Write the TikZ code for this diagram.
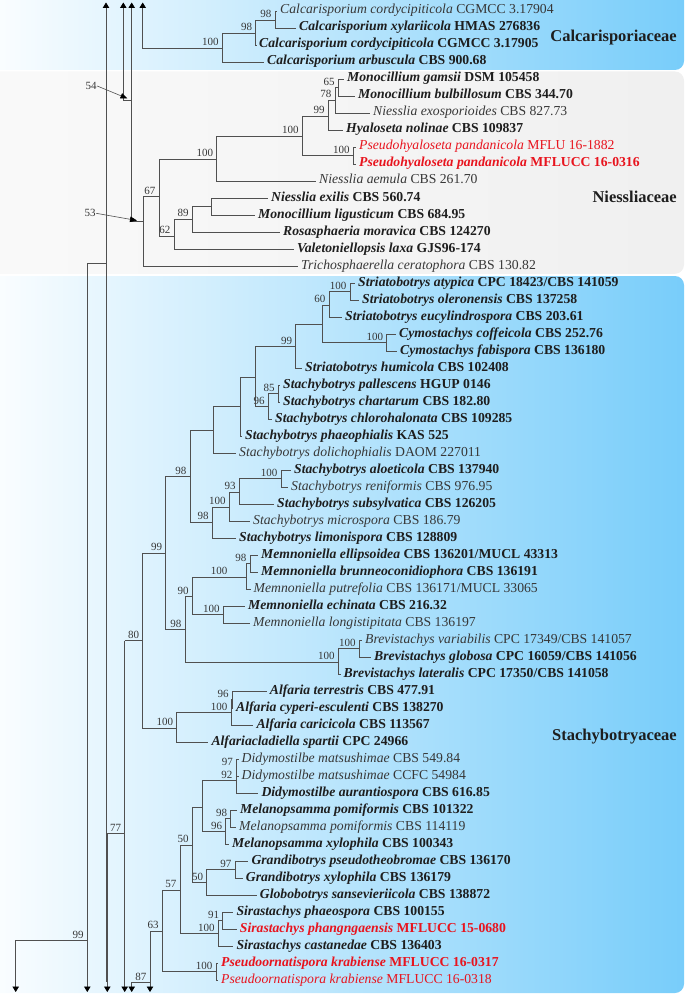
\documentclass[tikz,border=0pt]{standalone}
\usepackage{fontspec}
\setmainfont{Liberation Serif}
\usetikzlibrary{arrows.meta}
\definecolor{famblue}{RGB}{120,205,250}
\definecolor{linec}{RGB}{80,80,80}
\definecolor{txtc}{RGB}{30,30,30}
\definecolor{txtn}{RGB}{55,55,55}
\definecolor{newred}{RGB}{232,20,30}
\newcommand\lfx[2]{\textit{#1} #2}
\newcommand\brto[2]{\draw[br] (#1) |- (#2);}
\newcommand\bsl[3]{\node[bs] (#1) at ([xshift=-3pt,yshift=1.5pt]#2) {#3};}
\tikzset{
  leafbase/.style={anchor=west, inner xsep=3pt, inner ysep=0pt, text height=9pt, text depth=3pt},
  lfn/.style={leafbase, text=txtn, font=\fontsize{13.7}{15}\selectfont},
  lfb/.style={leafbase, text=txtc, font=\fontsize{13.7}{15}\selectfont\bfseries},
  lfr/.style={leafbase, text=newred, font=\fontsize{13.7}{15}\selectfont},
  lfrb/.style={leafbase, text=newred, font=\fontsize{13.7}{15}\selectfont\bfseries},
  bs/.style={anchor=south east, inner sep=0.5pt, text=txtn, font=\fontsize{11}{12}\selectfont},
  fam/.style={anchor=east, inner sep=0pt, text=txtc, font=\fontsize{16.5}{18}\selectfont\bfseries},
  br/.style={draw=linec, line width=0.75pt},
  endtri/.style={br, -{Triangle[width=6.5pt,length=5.5pt,black]}},
  annot/.style={draw=linec, line width=0.6pt, -{Triangle[width=5.5pt,length=7pt,black]}}
}
\begin{document}
\begin{tikzpicture}[x=1pt,y=-1pt]
\useasboundingbox (0,0) rectangle (685,995);
% family boxes
\shade[left color=white, right color=famblue, rounded corners=9pt] (-30,-20) rectangle (684,70);
\shade[left color=gray!4, right color=gray!12, rounded corners=9pt] (-30,71.5) rectangle (684,273.8);
\shade[left color=white, right color=famblue, rounded corners=9pt] (-30,276) rectangle (684,993);
\node[fam] (fcalc) at (677,38) {Calcarisporiaceae};
\node[fam] (fniess) at (677,197) {Niessliaceae};
\node[fam] (fstach) at (677,737) {Stachybotryaceae};

% leaves
\node[lfn]  (t1)  at (277,11)  {\lfx{Calcarisporium cordycipiticola}{CGMCC 3.17904}};
\node[lfb]  (t2)  at (296,28)  {\lfx{Calcarisporium xylariicola}{HMAS 276836}};
\node[lfb]  (t3)  at (256,45)  {\lfx{Calcarisporium cordycipiticola}{CGMCC 3.17905}};
\node[lfb]  (t4)  at (264,62)  {\lfx{Calcarisporium arbuscula}{CBS 900.68}};
\node[lfb]  (t5)  at (344,79)  {\lfx{Monocillium gamsii}{DSM 105458}};
\node[lfb]  (t6)  at (355,96)  {\lfx{Monocillium bulbillosum}{CBS 344.70}};
\node[lfn]  (t7)  at (370,113) {\lfx{Niesslia exosporioides}{CBS 827.73}};
\node[lfb]  (t8)  at (343,130) {\lfx{Hyaloseta nolinae}{CBS 109837}};
\node[lfr]  (t9)  at (356,147) {\lfx{Pseudohyaloseta pandanicola}{MFLU 16-1882}};
\node[lfrb] (t10) at (356,164) {\lfx{Pseudohyaloseta pandanicola}{MFLUCC 16-0316}};
\node[lfn]  (t11) at (316,181) {\lfx{Niesslia aemula}{CBS 261.70}};
\node[lfb]  (t12) at (268,198) {\lfx{Niesslia exilis}{CBS 560.74}};
\node[lfb]  (t13) at (255,215) {\lfx{Monocillium ligusticum}{CBS 684.95}};
\node[lfb]  (t14) at (280,232) {\lfx{Rosasphaeria moravica}{CBS 124270}};
\node[lfb]  (t15) at (294,249) {\lfx{Valetoniellopsis laxa}{GJS96-174}};
\node[lfn]  (t16) at (298,266) {\lfx{Trichosphaerella ceratophora}{CBS 130.82}};
\node[lfb]  (t17) at (355,283) {\lfx{Striatobotrys atypica}{CPC 18423/CBS 141059}};
\node[lfb]  (t18) at (359,300) {\lfx{Striatobotrys oleronensis}{CBS 137258}};
\node[lfb]  (t19) at (342,317) {\lfx{Striatobotrys eucylindrospora}{CBS 203.61}};
\node[lfb]  (t20) at (396,334) {\lfx{Cymostachys coffeicola}{CBS 252.76}};
\node[lfb]  (t21) at (397,351) {\lfx{Cymostachys fabispora}{CBS 136180}};
\node[lfb]  (t22) at (302,368) {\lfx{Striatobotrys humicola}{CBS 102408}};
\node[lfb]  (t23) at (280,385) {\lfx{Stachybotrys pallescens}{HGUP 0146}};
\node[lfb]  (t24) at (280,402) {\lfx{Stachybotrys chartarum}{CBS 182.80}};
\node[lfb]  (t25) at (272,419) {\lfx{Stachybotrys chlorohalonata}{CBS 109285}};
\node[lfb]  (t26) at (242,436) {\lfx{Stachybotrys phaeophialis}{KAS 525}};
\node[lfn]  (t27) at (236,453) {\lfx{Stachybotrys dolichophialis}{DAOM 227011}};
\node[lfb]  (t28) at (291,470) {\lfx{Stachybotrys aloeticola}{CBS 137940}};
\node[lfn]  (t29) at (288,487) {\lfx{Stachybotrys reniformis}{CBS 976.95}};
\node[lfb]  (t30) at (274,504) {\lfx{Stachybotrys subsylvatica}{CBS 126205}};
\node[lfn]  (t31) at (250,521) {\lfx{Stachybotrys microspora}{CBS 186.79}};
\node[lfb]  (t32) at (236,538) {\lfx{Stachybotrys limonispora}{CBS 128809}};
\node[lfb]  (t33) at (258,555) {\lfx{Memnoniella ellipsoidea}{CBS 136201/MUCL 43313}};
\node[lfb]  (t34) at (258,572) {\lfx{Memnoniella brunneoconidiophora}{CBS 136191}};
\node[lfn]  (t35) at (250.5,589) {\lfx{Memnoniella putrefolia}{CBS 136171/MUCL 33065}};
\node[lfb]  (t36) at (245,606) {\lfx{Memnoniella echinata}{CBS 216.32}};
\node[lfn]  (t37) at (250,623) {\lfx{Memnoniella longistipitata}{CBS 136197}};
\node[lfn]  (t38) at (362,640) {\lfx{Brevistachys variabilis}{CPC 17349/CBS 141057}};
\node[lfb]  (t39) at (371,657) {\lfx{Brevistachys globosa}{CPC 16059/CBS 141056}};
\node[lfb]  (t40) at (340.5,674) {\lfx{Brevistachys lateralis}{CPC 17350/CBS 141058}};
\node[lfb]  (t41) at (266.7,691) {\lfx{Alfaria terrestris}{CBS 477.91}};
\node[lfb]  (t42) at (233,708) {\lfx{Alfaria cyperi-esculenti}{CBS 138270}};
\node[lfb]  (t43) at (253.3,725) {\lfx{Alfaria caricicola}{CBS 113567}};
\node[lfb]  (t44) at (208.3,742) {\lfx{Alfariacladiella spartii}{CPC 24966}};
\node[lfn]  (t45) at (238.5,759) {\lfx{Didymostilbe matsushimae}{CBS 549.84}};
\node[lfn]  (t46) at (238.5,776) {\lfx{Didymostilbe matsushimae}{CCFC 54984}};
\node[lfb]  (t47) at (258.3,793) {\lfx{Didymostilbe aurantiospora}{CBS 616.85}};
\node[lfb]  (t48) at (237,810) {\lfx{Melanopsamma pomiformis}{CBS 101322}};
\node[lfn]  (t49) at (236,827) {\lfx{Melanopsamma pomiformis}{CBS 114119}};
\node[lfb]  (t50) at (229,844) {\lfx{Melanopsamma xylophila}{CBS 100343}};
\node[lfb]  (t51) at (248.3,861) {\lfx{Grandibotrys pseudotheobromae}{CBS 136170}};
\node[lfb]  (t52) at (242.7,878) {\lfx{Grandibotrys xylophila}{CBS 136179}};
\node[lfb]  (t53) at (256.7,895) {\lfx{Globobotrys sansevieriicola}{CBS 138872}};
\node[lfb]  (t54) at (233.3,912) {\lfx{Sirastachys phaeospora}{CBS 100155}};
\node[lfrb] (t55) at (236.7,929) {\lfx{Sirastachys phangngaensis}{MFLUCC 15-0680}};
\node[lfb]  (t56) at (233.3,946) {\lfx{Sirastachys castanedae}{CBS 136403}};
\node[lfrb] (t57) at (218,963) {\lfx{Pseudoornatispora krabiense}{MFLUCC 16-0317}};
\node[lfr]  (t58) at (218,980) {\lfx{Pseudoornatispora krabiense}{MFLUCC 16-0318}};

% internal nodes
\coordinate (n98a) at (275,20);
\coordinate (n98b) at (255.7,33);
\coordinate (n100calc) at (222.3,48.3);
\coordinate (n65) at (338.3,87.5);
\coordinate (n78) at (335,100);
\coordinate (n99) at (328.3,116);
\coordinate (nPs) at (353.3,155.5);
\coordinate (n100b) at (302.3,136);
\coordinate (n100c) at (216.7,159);
\coordinate (nEx) at (211,206.5);
\coordinate (n89) at (192.3,219.3);
\coordinate (n62) at (174,236);
\coordinate (n67) at (159,196.7);
\coordinate (nNiess) at (143.3,221.7);
\coordinate (nAt) at (350,291.5);
\coordinate (n60) at (329,305);
\coordinate (nCym) at (386.7,342.5);
\coordinate (nU1) at (322.3,324);
\coordinate (n99s) at (295.7,346.5);
\coordinate (n85) at (278.3,393.5);
\coordinate (n96s) at (268.3,406.5);
\coordinate (nU2) at (255,377);
\coordinate (nU3) at (240.7,406.7);
\coordinate (nU4) at (213.3,430.5);
\coordinate (nAlo) at (281,478.5);
\coordinate (n93) at (239.3,492);
\coordinate (n100m) at (229.3,507);
\coordinate (n98m) at (212.3,522);
\coordinate (n98s) at (190,476.5);
\coordinate (n98e) at (250,563.5);
\coordinate (nU5) at (246,577);
\coordinate (nEch) at (223.3,614.5);
\coordinate (n90) at (192.3,596.5);
\coordinate (nBv) at (359.3,648.5);
\coordinate (nBr) at (338.3,662);
\coordinate (n98b2) at (185,629.5);
\coordinate (n99m) at (165.7,553.3);
\coordinate (n96a) at (232.3,699.5);
\coordinate (n100a) at (231,712.5);
\coordinate (n100al) at (176.7,728);
\coordinate (n80) at (142.7,640.7);
\coordinate (n97d) at (236.5,767.5);
\coordinate (n92d) at (236,780.5);
\coordinate (n98p) at (230.7,818.5);
\coordinate (n96p) at (225.7,831.5);
\coordinate (nU6) at (202.3,807);
\coordinate (n97g) at (235,869.5);
\coordinate (n50b) at (206.7,882.5);
\coordinate (n50a) at (192.3,845);
\coordinate (n91) at (222.7,920.5);
\coordinate (n100s) at (218.3,933.5);
\coordinate (n57) at (180,890);
\coordinate (n100p) at (216,971.5);
\coordinate (n63) at (162.3,931);

% branches
\brto{n98a}{t1} \brto{n98a}{t2}
\brto{n98b}{n98a} \brto{n98b}{t3}
\brto{n100calc}{n98b} \brto{n100calc}{t4}
\brto{n65}{t5} \brto{n65}{t6}
\brto{n78}{n65} \brto{n78}{t7}
\brto{n99}{n78} \brto{n99}{t8}
\brto{nPs}{t9} \brto{nPs}{t10}
\brto{n100b}{n99} \brto{n100b}{nPs}
\brto{n100c}{n100b} \brto{n100c}{t11}
\brto{nEx}{t12} \brto{nEx}{t13}
\brto{n89}{nEx} \brto{n89}{t14}
\brto{n62}{n89} \brto{n62}{t15}
\brto{n67}{n100c} \brto{n67}{n62}
\brto{nNiess}{n67} \brto{nNiess}{t16}
\brto{nAt}{t17} \brto{nAt}{t18}
\brto{n60}{nAt} \brto{n60}{t19}
\brto{nCym}{t20} \brto{nCym}{t21}
\brto{nU1}{n60} \brto{nU1}{nCym}
\brto{n99s}{nU1} \brto{n99s}{t22}
\brto{n85}{t23} \brto{n85}{t24}
\brto{n96s}{n85} \brto{n96s}{t25}
\brto{nU2}{n99s} \brto{nU2}{n96s}
\brto{nU3}{nU2} \brto{nU3}{t26}
\brto{nU4}{nU3} \brto{nU4}{t27}
\brto{nAlo}{t28} \brto{nAlo}{t29}
\brto{n93}{nAlo} \brto{n93}{t30}
\brto{n100m}{n93} \brto{n100m}{t31}
\brto{n98m}{n100m} \brto{n98m}{t32}
\brto{n98s}{nU4} \brto{n98s}{n98m}
\brto{n98e}{t33} \brto{n98e}{t34}
\brto{nU5}{n98e} \brto{nU5}{t35}
\brto{nEch}{t36} \brto{nEch}{t37}
\brto{n90}{nU5} \brto{n90}{nEch}
\brto{nBv}{t38} \brto{nBv}{t39}
\brto{nBr}{nBv} \brto{nBr}{t40}
\brto{n98b2}{n90} \brto{n98b2}{nBr}
\brto{n99m}{n98s} \brto{n99m}{n98b2}
\brto{n96a}{t41} \brto{n96a}{t42}
\brto{n100a}{n96a} \brto{n100a}{t43}
\brto{n100al}{n100a} \brto{n100al}{t44}
\brto{n80}{n99m} \brto{n80}{n100al}
\brto{n97d}{t45} \brto{n97d}{t46}
\brto{n92d}{n97d} \brto{n92d}{t47}
\brto{n98p}{t48} \brto{n98p}{t49}
\brto{n96p}{n98p} \brto{n96p}{t50}
\brto{nU6}{n92d} \brto{nU6}{n96p}
\brto{n97g}{t51} \brto{n97g}{t52}
\brto{n50b}{n97g} \brto{n50b}{t53}
\brto{n50a}{nU6} \brto{n50a}{n50b}
\brto{n91}{t54} \brto{n91}{t55}
\brto{n100s}{n91} \brto{n100s}{t56}
\brto{n57}{n50a} \brto{n57}{n100s}
\brto{n100p}{t57} \brto{n100p}{t58}
\brto{n63}{n57} \brto{n63}{n100p}

% left-side connections with arrows
\coordinate (T106) at (106,2.5);
\coordinate (J106) at (106,981);
\coordinate (J107) at (107.3,981);
\coordinate (B107) at (107.3,992);
\coordinate (J87) at (87.3,263.3);
\coordinate (B87) at (87.3,992);
\coordinate (J99) at (87.3,940.7);
\coordinate (B15) at (15.7,992);
\coordinate (T123) at (123.3,2.5);
\coordinate (J123) at (123.3,100);
\coordinate (T131) at (131.7,2.5);
\coordinate (J131) at (131.7,100);
\coordinate (S53) at (131.7,221.7);
\coordinate (T142) at (142.7,2.5);
\coordinate (S80) at (124.7,640.7);
\coordinate (J77) at (124.7,833.3);
\coordinate (J77l) at (107.3,833.3);
\coordinate (B124) at (124.7,992);
\coordinate (J87b) at (150,982.3);
\coordinate (B150) at (150,992);
\coordinate (B131) at (131.7,992);

\draw[endtri] (J106) -- (T106);
\draw[br] (J106) -- (J107);
\draw[br] (J77) -- (J77l);
\draw[endtri] (J77l) -- (B107);
\draw[br] (J87 -| T106) -- (J87);
\draw[endtri] (J87) -- (B87);
\draw[endtri] (J99) -| (B15);
\draw[endtri] (J123) -- (T123);
\draw[br] (J123) -- (J131);
\draw[endtri] (S53) -- (T131);
\draw[br] (nNiess) -- (S53);
\draw[endtri] (n100calc) -| (T142);
\draw[br] (n80) -- (S80);
\draw[endtri] (S80) -- (B124);
\draw[endtri] (n63) -| (B150);
\draw[endtri] (J87b) -| (B131);

% annotation arrows
\node[bs, anchor=center] (l54) at (91,86) {54};
\coordinate (p54) at (127.5,98.5);
\draw[annot] (l54.east) -- (p54);
\node[bs, anchor=center] (l53) at (90,213.3) {53};
\coordinate (p53) at (137,220.5);
\draw[annot] (l53.east) -- (p53);

% bootstrap labels
\bsl{b1}{n98a}{98}
\bsl{b2}{n98b}{98}
\bsl{b3}{n100calc}{100}
\bsl{b4}{n65}{65}
\bsl{b5}{n78}{78}
\bsl{b6}{n99}{99}
\bsl{b7}{nPs}{100}
\bsl{b8}{n100b}{100}
\bsl{b9}{n100c}{100}
\bsl{b10}{n89}{89}
\bsl{b11}{n62}{62}
\bsl{b12}{n67}{67}
\bsl{b13}{nAt}{100}
\bsl{b14}{n60}{60}
\bsl{b15}{nCym}{100}
\bsl{b16}{n99s}{99}
\bsl{b17}{n85}{85}
\bsl{b18}{n96s}{96}
\bsl{b19}{nAlo}{100}
\bsl{b20}{n93}{93}
\bsl{b21}{n100m}{100}
\bsl{b22}{n98m}{98}
\bsl{b23}{n98s}{98}
\bsl{b24}{n98e}{98}
\node[bs] (b25) at ([xshift=-18pt,yshift=1.5pt]nU5) {100};
\bsl{b26}{nEch}{100}
\bsl{b27}{n90}{90}
\bsl{b28}{nBv}{100}
\bsl{b29}{nBr}{100}
\bsl{b30}{n98b2}{98}
\bsl{b31}{n99m}{99}
\bsl{b32}{n96a}{96}
\bsl{b33}{n100a}{100}
\bsl{b34}{n100al}{100}
\bsl{b35}{n80}{80}
\bsl{b36}{n97d}{97}
\bsl{b37}{n92d}{92}
\bsl{b38}{n98p}{98}
\bsl{b39}{n96p}{96}
\bsl{b40}{n97g}{97}
\bsl{b41}{n50b}{50}
\bsl{b42}{n50a}{50}
\bsl{b43}{n91}{91}
\bsl{b44}{n100s}{100}
\bsl{b45}{n57}{57}
\bsl{b46}{n100p}{100}
\bsl{b47}{n63}{63}
\bsl{b48}{J87b}{87}
\bsl{b49}{J77}{77}
\bsl{b50}{J99}{99}
\end{tikzpicture}
\end{document}
